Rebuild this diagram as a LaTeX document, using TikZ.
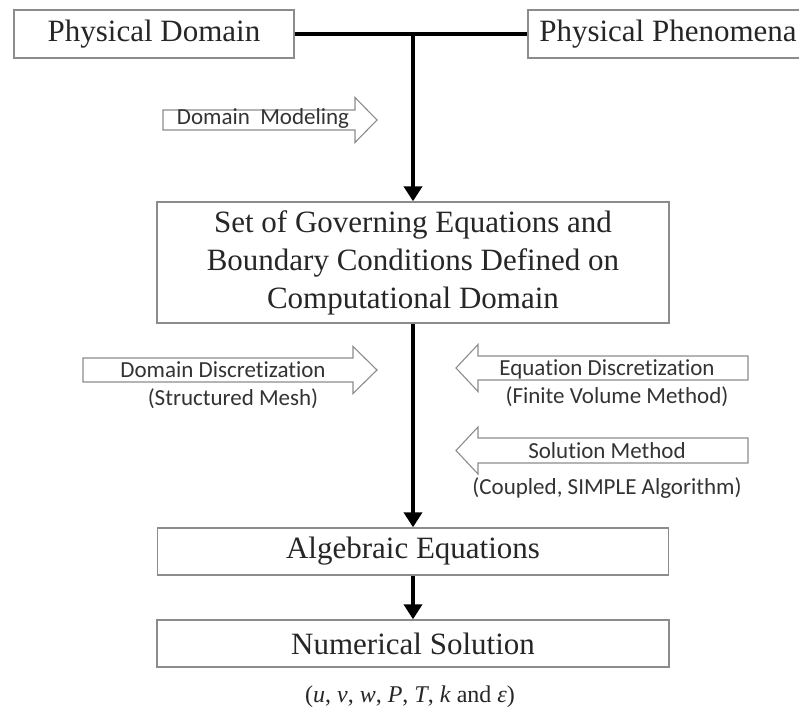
\documentclass[tikz,border=0pt]{standalone}
\usepackage{fontspec}
\setmainfont{Liberation Serif}
\newfontfamily\arrfont[Ligatures={NoCommon}]{Carlito}
\usetikzlibrary{arrows.meta}
\begin{document}
\begin{tikzpicture}[x=1pt,y=-1pt,
  box/.style={draw=black!45, line width=1.4pt, fill=white, text=black!85,
    font=\fontsize{31}{38}\selectfont, inner sep=0pt, align=center},
  conn/.style={line width=4pt, black},
  connarrow/.style={conn, -{Triangle[width=18pt,length=15pt]}},
  blockarrow/.style={draw=black!45, line width=1.1pt, fill=white, line join=miter},
  arrtext/.style={font=\arrfont\fontsize{23}{26}\selectfont, text=black!80, inner sep=0pt},
  vals/.style={font=\fontsize{24}{26}\selectfont, text=black!85, inner sep=0pt}]
\clip (0,0) rectangle (799,709);
\fill[white] (0,0) rectangle (799,709);

% boxes
\node[box, minimum width=280pt, minimum height=48pt] (pd) at (154,34) {Physical Domain};
\node[box, minimum width=280pt, minimum height=48pt] (pp) at (668,34) {Physical Phenomena};
\node[box, minimum width=512pt, minimum height=121pt] (gov) at (413,262.5)
  {Set of Governing Equations and\\Boundary Conditions Defined on\\Computational Domain};
\node[box, minimum width=511pt, minimum height=47pt] (alg) at (413,551.5) {Algebraic Equations};
\node[box, minimum width=512pt, minimum height=47pt] (num) at (413,643.5) {Numerical Solution};
\node[vals] (val) at (410,697) {(\textit{u}, \textit{v}, \textit{w}, \textit{P}, \textit{T}, \textit{k} and \textit{ε})};

% connectors
\coordinate (j) at (413,34);
\draw[conn] (pd.east) -- (pp.west);
\draw[connarrow] (j) -- (gov.north);
\draw[connarrow] (gov.south) -- (gov.south |- alg.north);
\draw[connarrow] (alg.south) -- (alg.south |- num.north);

% block arrows (right-pointing)
\draw[blockarrow] (163,110) -- (355,110) -- (355,97.5) -- (377,120) -- (355,142.5) -- (355,130) -- (163,130) -- cycle;
\node[arrtext] (dm) at (263,118) {Domain\ \ Modeling};

\draw[blockarrow] (83,358) -- (353,358) -- (353,346.5) -- (377,370) -- (353,393.5) -- (353,382) -- (83,382) -- cycle;
\node[arrtext] (dd) at (223,370) {Domain Discretization};
\node[arrtext] (dd2) at (233,399) {(Structured Mesh)};

% block arrows (left-pointing)
\draw[blockarrow] (748,356) -- (478,356) -- (478,344.5) -- (456,368) -- (478,391.5) -- (478,380) -- (748,380) -- cycle;
\node[arrtext] (ed) at (607,369) {Equation Discretization};
\node[arrtext] (ed2) at (617,397) {(Finite Volume Method)};

\draw[blockarrow] (748,438) -- (478,438) -- (478,427) -- (456,450.5) -- (478,474) -- (478,463) -- (748,463) -- cycle;
\node[arrtext] (sm) at (607,451) {Solution Method};
\node[arrtext] (sm2) at (607,488) {(Coupled, SIMPLE Algorithm)};
\end{tikzpicture}
\end{document}
